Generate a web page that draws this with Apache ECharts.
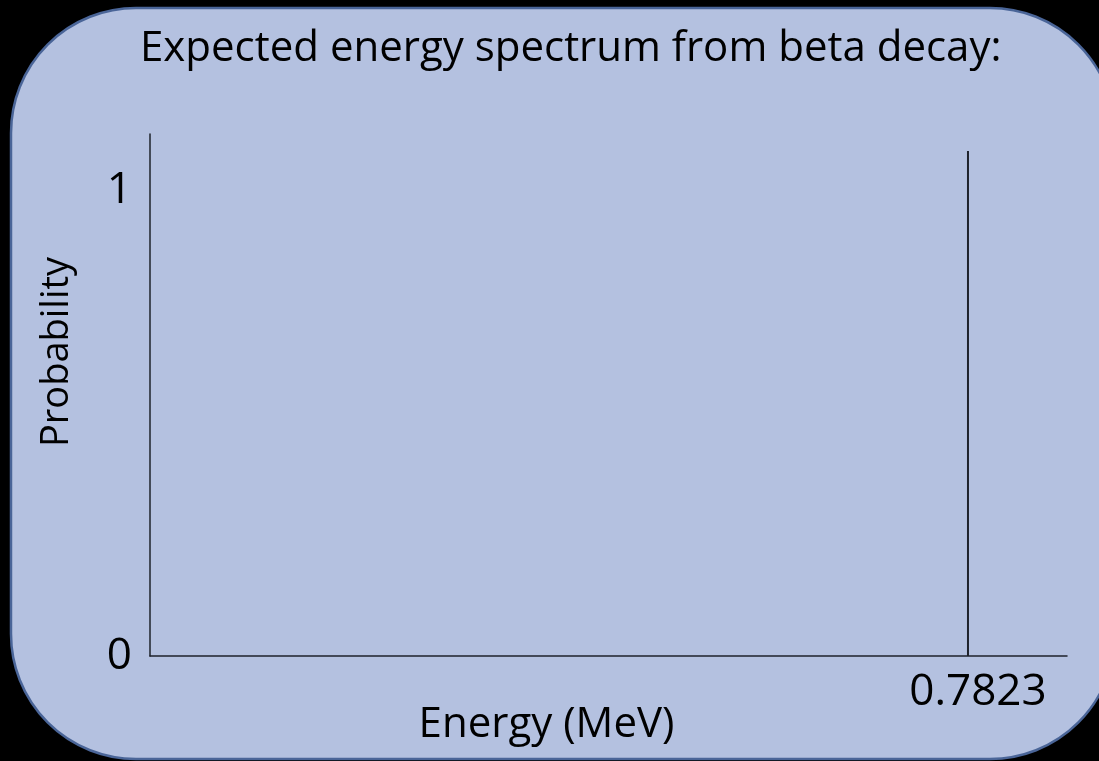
<!DOCTYPE html>
<html>
<head>
<meta charset="utf-8">
<script src="https://cdn.jsdelivr.net/npm/echarts@6/dist/echarts.min.js"></script>
<style>
  html, body { margin: 0; padding: 0; background: #000; overflow: hidden; }
  #chart { width: 1099px; height: 761px; }
</style>
</head>
<body>
<div id="chart"></div>
<script>
// data
const titleText = "Expected energy spectrum from beta decay:";
const xName = "Energy (MeV)";
const yName = "Probability";
const endpointEnergy = 0.7823;        // MeV, the marked endpoint
const yTicks = [0, 1];
const xTicks = [endpointEnergy];
const endpointLine = [[endpointEnergy, 0], [endpointEnergy, 1.0837]];
const xMax = 0.877;
const yMax = 1.1202;

const font = "Open Sans";
const chart = echarts.init(document.getElementById("chart"));

chart.setOption({
  backgroundColor: "#000",
  animation: false,
  graphic: [
    {
      type: "rect",
      z: -10,
      shape: { x: 11, y: 8, width: 1104, height: 751, r: 125 },
      style: { fill: "#b4c1e0", stroke: "#4a6598", lineWidth: 2.5 },
      silent: true,
    },
  ],
  title: {
    text: titleText,
    left: 140,
    top: 28,
    padding: 0,
    textStyle: { fontFamily: font, fontSize: 42, fontWeight: "normal", color: "#000" },
  },
  grid: { left: 150, top: 134, width: 917, height: 522, outerBoundsMode: "none", containLabel: false },
  xAxis: {
    type: "value",
    min: 0,
    max: xMax,
    name: xName,
    nameLocation: "middle",
    nameGap: 48,
    nameMoveOverlap: false,
    nameTextStyle: { fontFamily: font, fontSize: 42, color: "#000", padding: [0, 124, 0, 0] },
    axisLine: { show: true, lineStyle: { color: "#1e222b", width: 1.5 } },
    axisTick: { show: false },
    splitLine: { show: false },
    axisLabel: {
      customValues: xTicks,
      formatter: (v) => v.toFixed(4),
      margin: 14,
      padding: [0, 0, 0, 20],
      fontFamily: font,
      fontSize: 44,
      color: "#000",
    },
  },
  yAxis: {
    type: "value",
    min: 0,
    max: yMax,
    name: yName,
    nameLocation: "middle",
    nameRotate: 90,
    nameGap: 74,
    nameMoveOverlap: false,
    nameTextStyle: { fontFamily: font, fontSize: 38, color: "#000", padding: [0, 0, 0, 86] },
    axisLine: { show: true, lineStyle: { color: "#1e222b", width: 1.5 } },
    axisTick: { show: false },
    splitLine: { show: false },
    axisLabel: {
      customValues: yTicks,
      margin: 18,
      fontFamily: font,
      fontSize: 44,
      color: "#000",
    },
  },
  series: [
    {
      type: "line",
      data: endpointLine,
      symbol: "none",
      lineStyle: { color: "#1e222b", width: 2 },
      silent: true,
    },
  ],
});
</script>
</body>
</html>
